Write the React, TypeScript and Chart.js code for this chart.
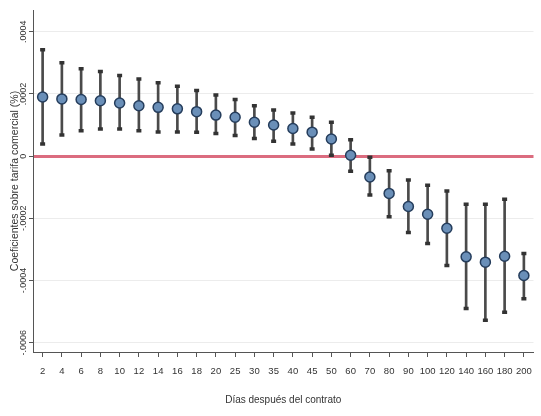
import React, { useEffect, useRef } from "react";
import { Chart, registerables } from "chart.js";

Chart.register(...registerables);

const categories = [
  "2", "4", "6", "8", "10", "12", "14", "16", "18", "20", "25", "30", "35",
  "40", "45", "50", "60", "70", "80", "90", "100", "120", "140", "160", "180", "200",
];

const coefficients = [
  0.000190, 0.000184, 0.000182, 0.000178, 0.000171, 0.000162, 0.000157, 0.000152, 0.000143,
  0.000132, 0.000125, 0.000109, 0.000100, 0.000089, 0.000077, 0.000055, 0.000003, -0.000067,
  -0.000120, -0.000162, -0.000187, -0.000232, -0.000324, -0.000341, -0.000322, -0.000384,
];

const upperCI = [
  0.000342, 0.000300, 0.000281, 0.000272, 0.000259, 0.000248, 0.000236, 0.000225, 0.000211,
  0.000197, 0.000182, 0.000162, 0.000148, 0.000139, 0.000125, 0.000109, 0.000053, -0.000004,
  -0.000047, -0.000077, -0.000094, -0.000112, -0.000155, -0.000155, -0.000139, -0.000313,
];

const lowerCI = [
  0.000039, 0.000068, 0.000082, 0.000087, 0.000087, 0.000082, 0.000078, 0.000078, 0.000077,
  0.000073, 0.000066, 0.000057, 0.000048, 0.000039, 0.000023, 0.000003, -0.000049, -0.000125,
  -0.000195, -0.000246, -0.000281, -0.000352, -0.000490, -0.000528, -0.000502, -0.000459,
];

const yTickValues = [-0.0006, -0.0004, -0.0002, 0, 0.0002, 0.0004];
const yTickLabels = ["-.0006", "-.0004", "-.0002", "0", ".0002", ".0004"];

const xTitle = "Días después del contrato";
const yTitle = "Coeficientes sobre tarifa comercial (%)";

const FONT = "'Liberation Sans', Arial, sans-serif";

export default function App() {
  const ref = useRef<HTMLCanvasElement | null>(null);

  useEffect(() => {
    document.body.style.margin = "0";
    const canvas = ref.current;
    if (!canvas) return;
    const isZero = (v: number) => Math.abs(v) < 1e-12;

    const chart = new Chart(canvas, {
      type: "line",
      data: {
        labels: categories,
        datasets: [
          {
            type: "line",
            label: "Coeficiente",
            data: coefficients,
            showLine: false,
            pointStyle: "circle",
            pointRadius: 5,
            pointBackgroundColor: "#6a8fb8",
            pointBorderColor: "#253d5c",
            pointBorderWidth: 1.5,
            order: 0,
          },
          {
            type: "line",
            label: "Superior",
            data: upperCI,
            showLine: false,
            pointStyle: "line",
            pointRadius: 2.5,
            pointBorderWidth: 3.5,
            pointBorderColor: "#333",
            order: 1,
          },
          {
            type: "line",
            label: "Inferior",
            data: lowerCI,
            showLine: false,
            pointStyle: "line",
            pointRadius: 2.5,
            pointBorderWidth: 3.5,
            pointBorderColor: "#333",
            order: 1,
          },
          {
            type: "bar",
            label: "IC",
            data: lowerCI.map((l, i) => [l, upperCI[i]]) as any,
            backgroundColor: "#4a4a4a",
            barThickness: 2,
            order: 2,
          },
        ],
      },
      options: {
        responsive: true,
        maintainAspectRatio: false,
        animation: false,
        layout: { padding: { top: 10, right: 0, left: 0, bottom: 0 } },
        plugins: {
          legend: { display: false },
          tooltip: { enabled: false },
        },
        scales: {
          x: {
            type: "category",
            offset: true,
            grid: {
              offset: false,
              drawOnChartArea: false,
              drawTicks: true,
              tickLength: 5,
              tickColor: "#555",
              tickWidth: 1,
            },
            border: { display: true, color: "#555", width: 1 },
            ticks: {
              autoSkip: false,
              maxRotation: 0,
              minRotation: 0,
              padding: 9,
              color: "#333",
              font: { family: FONT, size: 9.5 },
            },
            title: {
              display: true,
              text: xTitle,
              color: "#333",
              font: { family: FONT, size: 10 },
              padding: { top: 0, bottom: 10 },
            },
            afterFit: (s: any) => {
              s.height = 64;
            },
          },
          y: {
            type: "linear",
            min: -0.00063,
            max: 0.00047,
            afterBuildTicks: (s: any) => {
              s.ticks = yTickValues.map((v) => ({ value: v }));
            },
            grid: {
              color: (ctx: any) => (ctx.tick && isZero(ctx.tick.value) ? "#db6c7f" : "#ececec"),
              lineWidth: (ctx: any) => (ctx.tick && isZero(ctx.tick.value) ? 3 : 1),
              drawTicks: true,
              tickLength: 4,
              tickColor: "#555",
              tickWidth: 1,
            },
            border: { display: true, color: "#555", width: 1 },
            ticks: {
              minRotation: 90,
              maxRotation: 90,
              crossAlign: "center",
              padding: -7,
              color: "#333",
              font: { family: FONT, size: 9 },
              callback: (value: any) => {
                const i = yTickValues.findIndex((t) => isZero(t - Number(value)));
                return i >= 0 ? yTickLabels[i] : "";
              },
            },
            title: {
              display: true,
              text: yTitle,
              color: "#333",
              font: { family: FONT, size: 10.5 },
              padding: { top: 9, bottom: 0 },
            },
            afterFit: (s: any) => {
              s.width = 33;
            },
          },
        },
      },
    });
    return () => chart.destroy();
  }, []);

  return (
    <div style={{ position: "absolute", left: 0, top: 0, width: 541, height: 416, background: "#fff" }}>
      <canvas ref={ref} />
    </div>
  );
}
